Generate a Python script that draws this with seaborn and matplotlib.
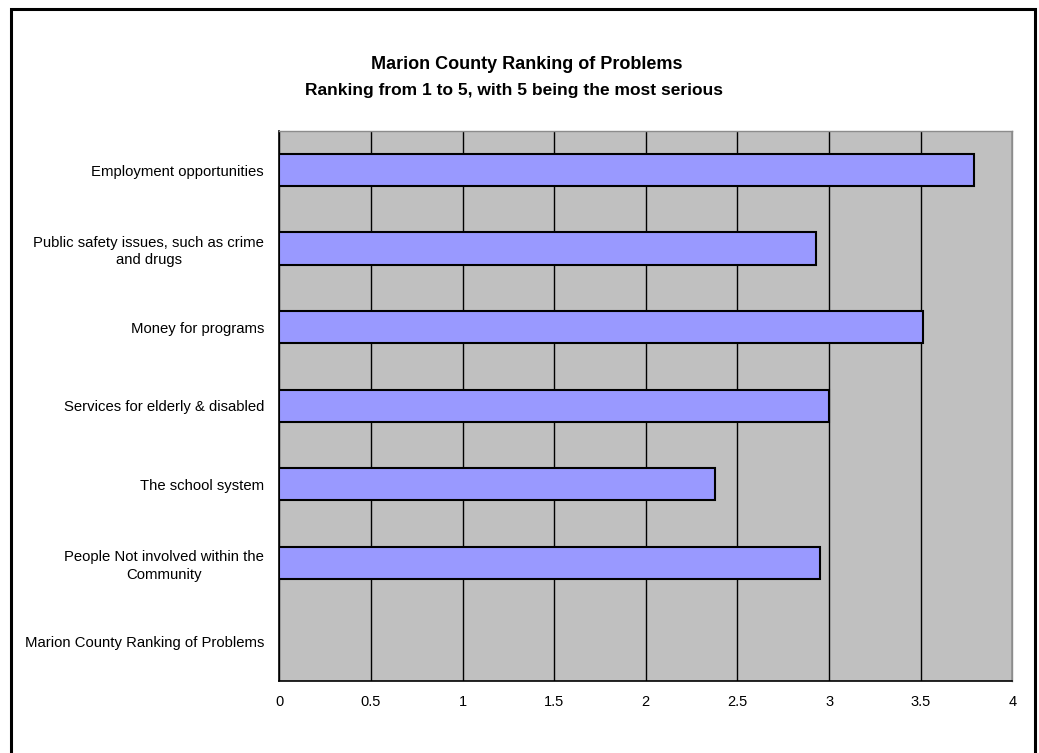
import numpy as np
import pandas as pd
import matplotlib
matplotlib.use("Agg")
import matplotlib.pyplot as plt
import seaborn as sns

# data
problems = ["Employment opportunities",
            "Public safety issues, such as crime\nand drugs",
            "Money for programs",
            "Services for elderly & disabled",
            "The school system",
            "People Not involved within the\nCommunity",
            "Marion County Ranking of Problems"]
scores = [3.79, 2.93, 3.51, 3.00, 2.38, 2.95, np.nan]
xticks = [0, 0.5, 1, 1.5, 2, 2.5, 3, 3.5, 4]
xtick_labels = ["0", "0.5", "1", "1.5", "2", "2.5", "3", "3.5", "4"]

df = pd.DataFrame({"problem": problems, "score": scores})

sns.set_style("white")
plt.rcParams["font.family"] = ["Liberation Sans", "DejaVu Sans"]
plt.rcParams["text.color"] = "black"
plt.rcParams["xtick.labelcolor"] = "black"
plt.rcParams["ytick.labelcolor"] = "black"

fig = plt.figure(figsize=(10.39, 7.53), dpi=100)
ax = fig.add_axes([0.2688, 0.0960, 0.7055, 0.7304])
ax.set_facecolor("#C0C0C0")

sns.barplot(data=df, y="problem", x="score", orient="h", order=problems,
            color="#9999FF", saturation=1, width=0.41,
            edgecolor="black", linewidth=1.5, ax=ax, zorder=3)

ax.set_xlim(0, 4)
ax.set_ylim(6.5, -0.5)
ax.set_xticks(xticks)
ax.set_xticklabels(xtick_labels, fontsize=10.5)
ax.xaxis.grid(True, color="black", linewidth=1)
ax.set_axisbelow(True)
ax.tick_params(axis="x", direction="out", length=4, width=1, color="black", pad=6)

# category labels with no tick, short ticks at the band edges
ax.tick_params(axis="y", which="major", length=0, pad=11, labelsize=10.7)
ax.set_yticks(np.arange(-0.5, 7, 1), minor=True)
ax.tick_params(axis="y", which="minor", direction="out", length=4, width=1, color="black")
for t in ax.get_yticklabels():
    t.set_multialignment("center")
    t.set_linespacing(1.3)

ax.set_xlabel("")
ax.set_ylabel("")

for s in ["left", "bottom"]:
    ax.spines[s].set_color("black")
    ax.spines[s].set_linewidth(1.2)
for s in ["top", "right"]:
    ax.spines[s].set_color("#8C8C8C")
    ax.spines[s].set_linewidth(1)

fig.text(0.507, 0.915, "Marion County Ranking of Problems", ha="center", va="center",
         fontsize=13, fontweight="bold")
fig.text(0.495, 0.880, "Ranking from 1 to 5, with 5 being the most serious", ha="center",
         va="center", fontsize=12.5, fontweight="bold")

# outer chart frame
frame = plt.Rectangle((11 / 1039, -0.05), (1035 - 11) / 1039, 1.05 - 9 / 753,
                      transform=fig.transFigure, fill=False, edgecolor="black",
                      linewidth=2.2, clip_on=False)
fig.patches.append(frame)

plt.savefig("out.png", dpi=100)
